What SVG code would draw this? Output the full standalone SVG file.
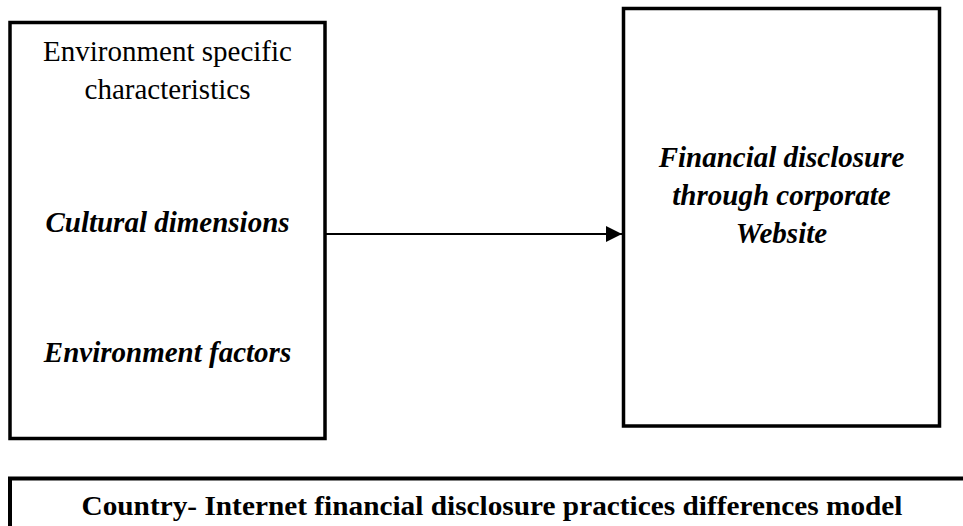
<svg xmlns="http://www.w3.org/2000/svg" width="963" height="526" viewBox="0 0 963 526">
<style>
.box{fill:#fff;stroke:#000;stroke-width:3.5}
.t{font-family:"Liberation Serif","Times New Roman",serif;font-size:29px;fill:#000;text-anchor:middle}
.bi{font-weight:bold;font-style:italic}
.b{font-weight:bold}
</style>
<defs>
<marker id="ah" markerWidth="8" markerHeight="8" refX="8" refY="4" orient="auto" markerUnits="strokeWidth">
<path d="M0,0 L8,4 L0,8 Z" fill="#000"/>
</marker>
</defs>
<rect width="963" height="526" fill="#fff"/>
<g id="connectors">
<line x1="325" y1="234" x2="622" y2="234" stroke="#000" stroke-width="2" marker-end="url(#ah)"/>
</g>
<g id="env">
<rect class="box" x="10" y="22.5" width="315" height="416"/>
<text class="t" x="167.5" y="61">Environment specific</text>
<text class="t" x="167.5" y="99">characteristics</text>
<text class="t bi" x="167.5" y="232">Cultural dimensions</text>
<text class="t bi" x="167.5" y="362">Environment factors</text>
</g>
<g id="disclosure">
<rect class="box" x="623.5" y="8.5" width="316" height="417.5"/>
<text class="t bi" x="781.5" y="167">Financial disclosure</text>
<text class="t bi" x="781.5" y="205">through corporate</text>
<text class="t bi" x="781.5" y="243">Website</text>
</g>
<g id="model">
<rect x="10" y="478.5" width="970" height="60" fill="#fff" stroke="#000" stroke-width="4"/>
<text class="t b" x="492" y="515" style="font-size:28px" textLength="821" lengthAdjust="spacingAndGlyphs">Country- Internet financial disclosure practices differences model</text>
</g>
</svg>
